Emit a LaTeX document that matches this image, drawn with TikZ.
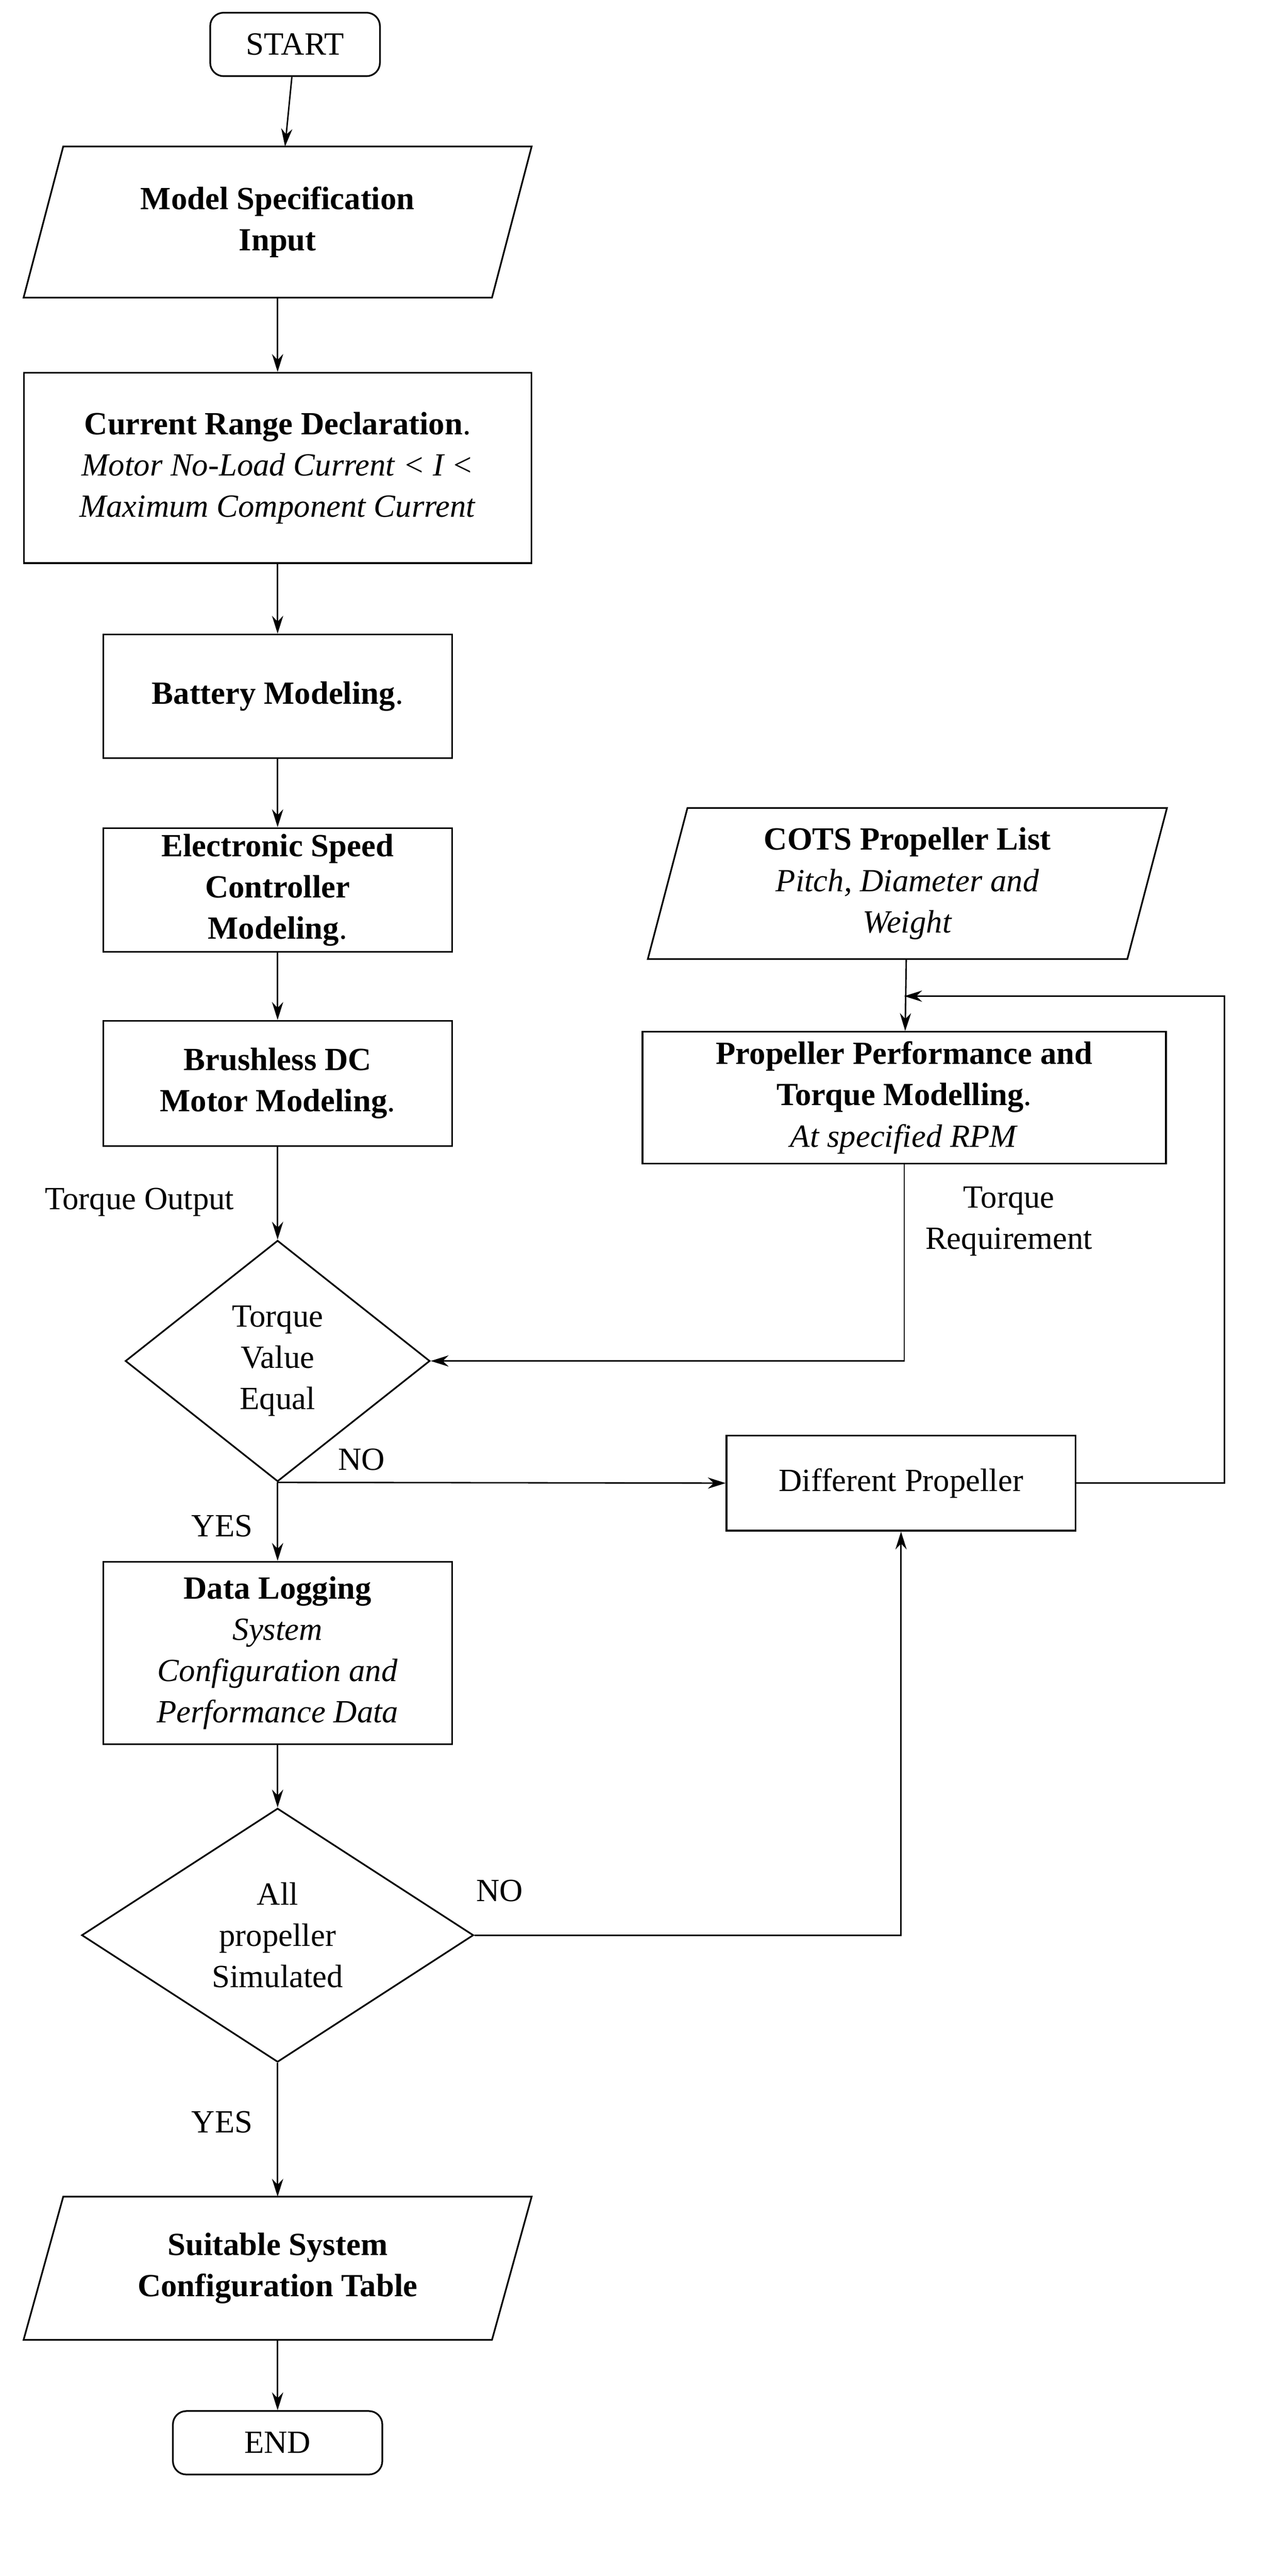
\documentclass[tikz,border=0pt]{standalone}
\usepackage{fontspec}
\setmainfont{Liberation Serif}
\usetikzlibrary{shapes.geometric,arrows.meta}
\begin{document}
\begin{tikzpicture}[x=0.05cm,y=-0.05cm,
  every node/.style={font=\fontsize{29}{37}\selectfont, align=center, inner sep=0pt},
  box/.style={draw, line width=1.5pt, minimum width=#1*0.05cm},
  ln/.style={line width=1.3pt},
  ar/.style={ln,-{Stealth[length=16pt,width=10pt]}},
  para/.style={draw=none, minimum width=#1*0.05cm}]
\useasboundingbox[fill=white] (0,0) rectangle (810,1624);
\node[box=107, rounded corners=12pt, minimum height=40*0.05cm] (start) at (186,28) {START};
\node[para=295, minimum height=95*0.05cm] (ms) at (175,140) {\textbf{Model Specification}\\\textbf{Input}};
\draw[line width=1.5pt] ([xshift=-12.5*0.05cm]ms.south west) -- ([xshift=12.5*0.05cm]ms.north west) -- ([xshift=12.5*0.05cm]ms.north east) -- ([xshift=-12.5*0.05cm]ms.south east) -- cycle;
\node[box=320, minimum height=120*0.05cm] (cr) at (175,295) {\textbf{Current Range Declaration}.\\\textit{Motor No-Load Current < I <}\\\textit{Maximum Component Current}};
\node[box=220, minimum height=78*0.05cm] (bat) at (175,439) {\textbf{Battery Modeling}.};
\node[box=220, minimum height=78*0.05cm] (esc) at (175,561) {\textbf{Electronic Speed}\\\textbf{Controller}\\\textbf{Modeling}.};
\node[box=220, minimum height=79*0.05cm] (bl) at (175,683) {\textbf{Brushless DC}\\\textbf{Motor Modeling}.};
\node[draw, line width=1.5pt, diamond, minimum width=192*0.05cm, minimum height=152*0.05cm] (d1) at (175,858) {};
\node at (175,858) {Torque\\Value\\Equal};
\node[box=220, minimum height=115*0.05cm] (dl) at (175,1042) {\textbf{Data Logging}\\\textit{System}\\\textit{Configuration and}\\\textit{Performance Data}};
\node[draw, line width=1.5pt, diamond, minimum width=247*0.05cm, minimum height=160*0.05cm] (d2) at (175,1220) {};
\node at (175,1220) {All\\propeller\\Simulated};
\node[para=295, minimum height=90*0.05cm] (st) at (175,1430) {\textbf{Suitable System}\\\textbf{Configuration Table}};
\draw[line width=1.5pt] ([xshift=-12.5*0.05cm]st.south west) -- ([xshift=12.5*0.05cm]st.north west) -- ([xshift=12.5*0.05cm]st.north east) -- ([xshift=-12.5*0.05cm]st.south east) -- cycle;
\node[box=132, rounded corners=12pt, minimum height=40*0.05cm] (end) at (175,1540) {END};
\node[para=302, minimum height=95*0.05cm] (cots) at (572,557) {\textbf{COTS Propeller List}\\\textit{Pitch, Diameter and}\\\textit{Weight}};
\draw[line width=1.5pt] ([xshift=-12.5*0.05cm]cots.south west) -- ([xshift=12.5*0.05cm]cots.north west) -- ([xshift=12.5*0.05cm]cots.north east) -- ([xshift=-12.5*0.05cm]cots.south east) -- cycle;
\node[box=330, minimum height=83*0.05cm] (pp) at (570,692) {\textbf{Propeller Performance and}\\\textbf{Torque Modelling}.\\\textit{At specified RPM}};
\node[box=220, minimum height=60*0.05cm] (dp) at (568,935) {Different Propeller};
\node (to) at (88,758) {Torque Output};
\node (tr) at (636,770) {Torque\\Requirement};
\node (no1) at (228,920) {NO};
\node (yes1) at (140,962) {YES};
\node (no2) at (315,1192) {NO};
\node (yes2) at (140,1338) {YES};
\coordinate (c1) at (570,858);
\coordinate (c2) at (772,935);
\coordinate (c3) at (772,628);
\coordinate (c4) at (570,628);
\coordinate (c5) at (568,1220);
\draw[ar] (start) -- (ms);
\draw[ar] (ms) -- (cr);
\draw[ar] (cr) -- (bat);
\draw[ar] (bat) -- (esc);
\draw[ar] (esc) -- (bl);
\draw[ar] (bl) -- (d1);
\draw[ar] (d1) -- (dl);
\draw[ar] (dl) -- (d2);
\draw[ar] (d2) -- (st);
\draw[ar] (st) -- (end);
\draw[ar] (cots) -- (pp);
\draw[ar] (pp.south -| c1) -- (c1) -- (d1.east);
\draw[ar] (d1.south) -- (dp.west);
\draw[ar] (dp.east) -- (c2) -- (c3) -- (c4);
\draw[ar] (d2.east) -- (c5) -- (dp.south);
\end{tikzpicture}
\end{document}
